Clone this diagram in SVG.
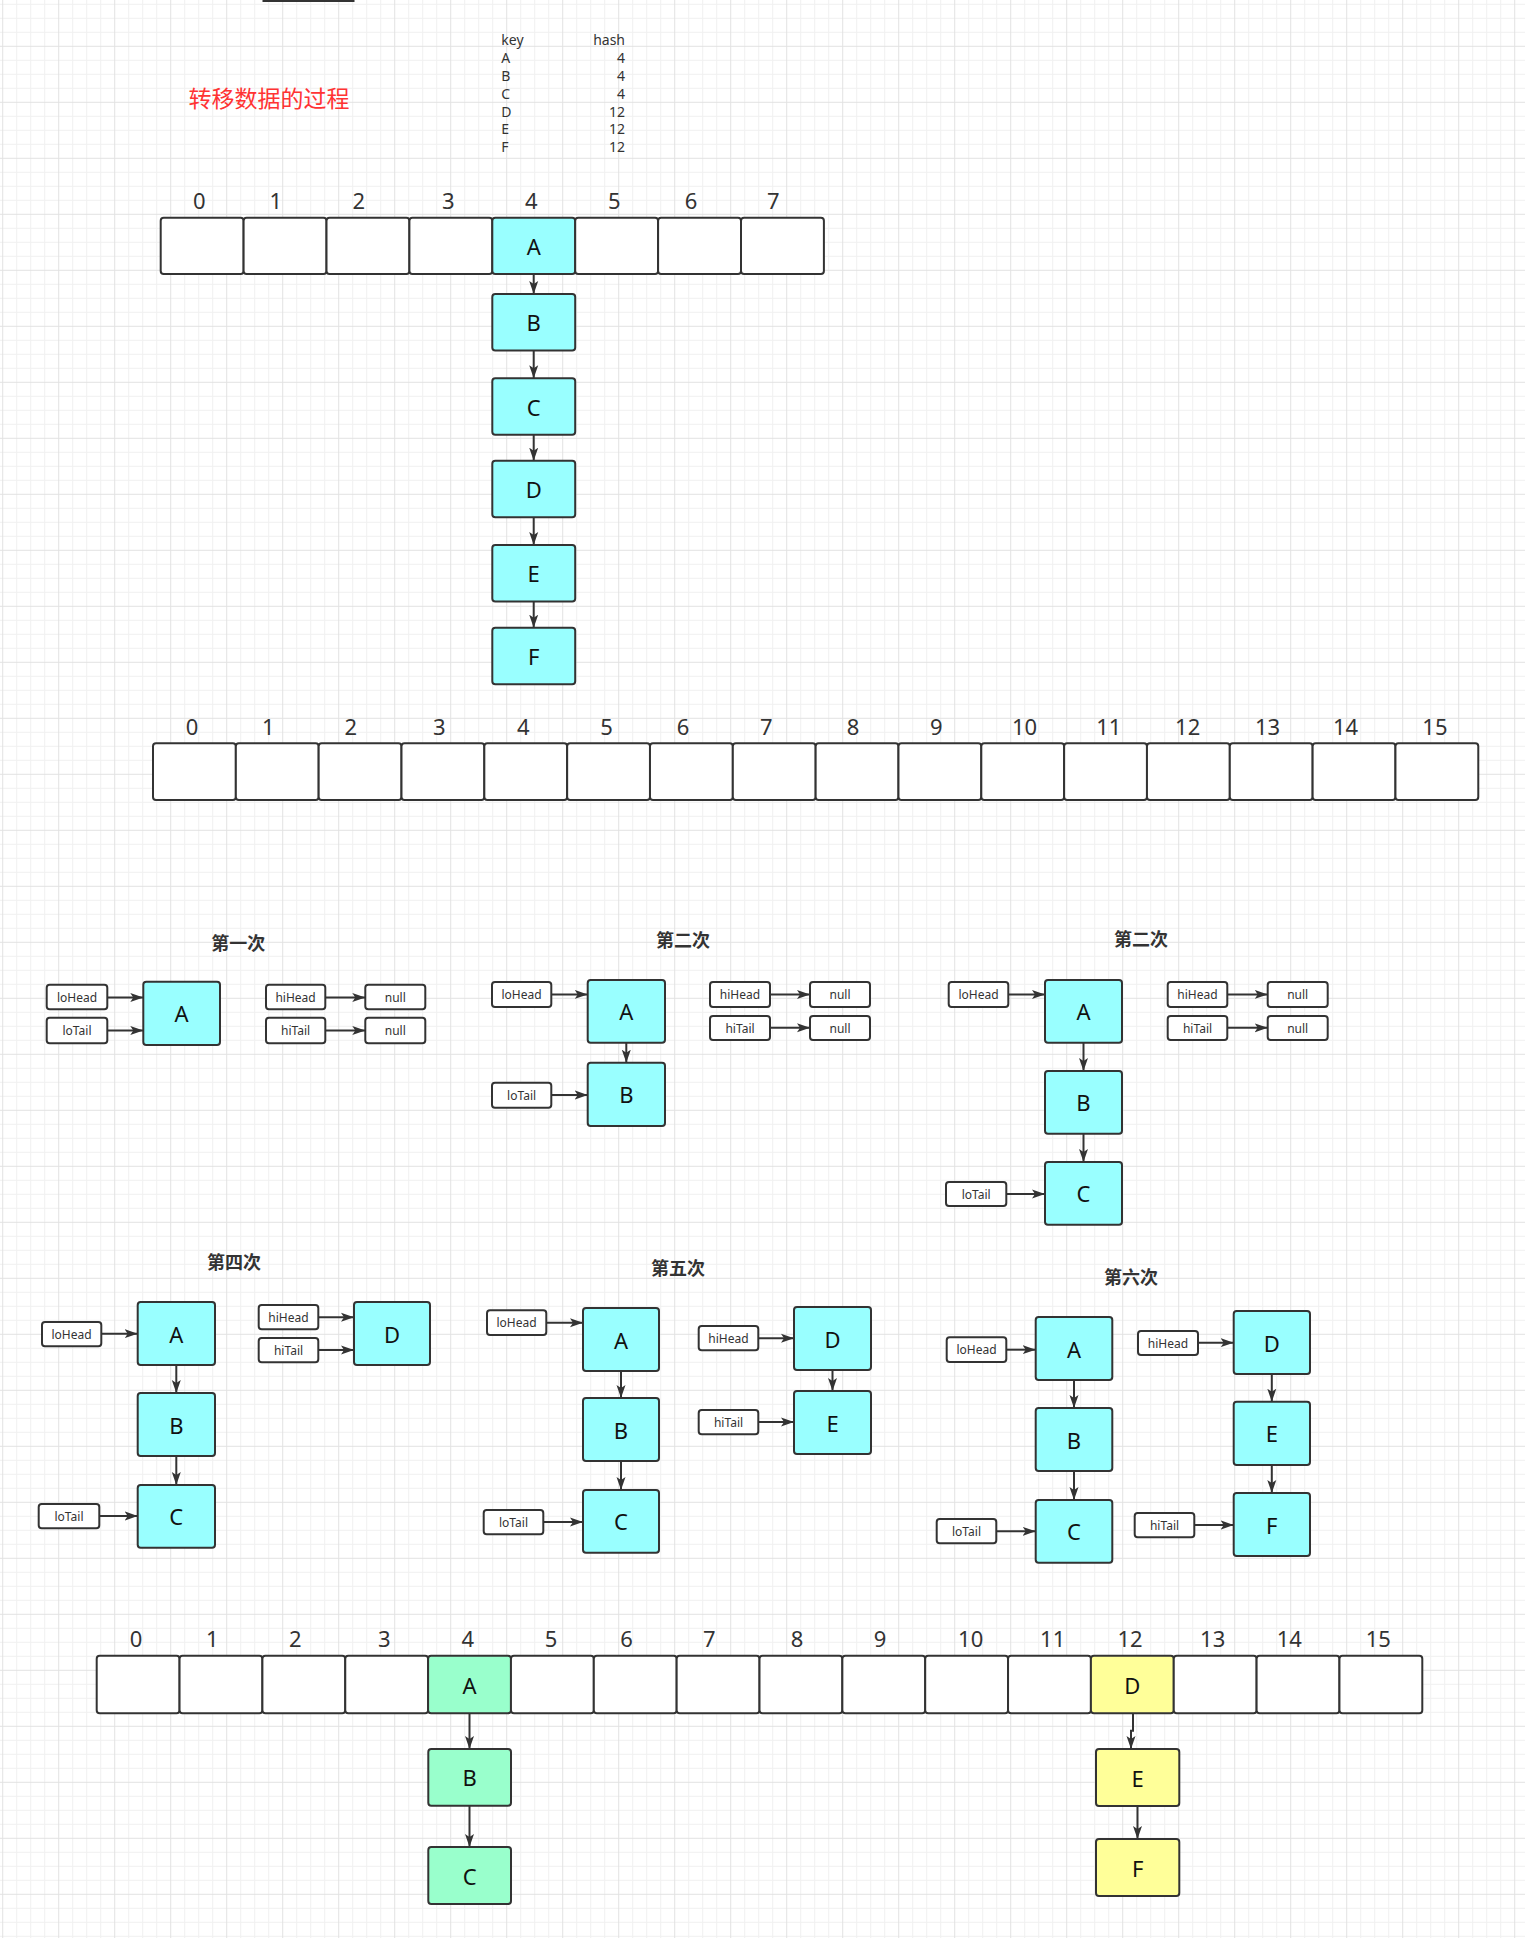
<svg xmlns="http://www.w3.org/2000/svg" width="1525" height="1938" viewBox="0 0 1525 1938">
<style>
.cell{fill:#fff;stroke:#333;stroke-width:2}
.cy{fill:#99ffff;stroke:#333;stroke-width:2}
.gr{fill:#99ffcc;stroke:#333;stroke-width:2}
.ye{fill:#ffff99;stroke:#333;stroke-width:2}
.sm{fill:#fff;stroke:#333;stroke-width:2}
.idx{font-family:"Noto Sans","Liberation Sans",sans-serif;font-size:22px;fill:#333;text-anchor:middle;dominant-baseline:central}
.big{font-family:"Noto Sans","Liberation Sans",sans-serif;font-size:22px;fill:#111;text-anchor:middle;dominant-baseline:central}
.lab{font-family:"Noto Sans","Liberation Sans",sans-serif;font-size:12px;fill:#333;text-anchor:middle;dominant-baseline:central}
.tt{font-family:"Noto Sans CJK SC",sans-serif;font-size:18px;font-weight:bold;fill:#333;text-anchor:middle;dominant-baseline:central}
.kv{font-family:"Noto Sans","Liberation Sans",sans-serif;font-size:14px;fill:#333}
.ln{fill:none;stroke:#333;stroke-width:2;marker-end:url(#arr)}
</style>
<defs>
<pattern id="grid" x="2.2" y="45.8" width="56" height="56" patternUnits="userSpaceOnUse">
<path d="M14.5 0V56M28.5 0V56M42.5 0V56M0 14.5H56M0 28.5H56M0 42.5H56" stroke="#f0f0f0" stroke-width="1"/>
<path d="M0.5 0V56M0 0.5H56" stroke="#e2e2e2" stroke-width="1"/>
</pattern>
<marker id="arr" markerUnits="userSpaceOnUse" markerWidth="14" markerHeight="10" refX="13" refY="5" orient="auto">
<path d="M0,0.5 L13,5 L0,9.5 L3,5 Z" fill="#333"/>
</marker>
</defs>
<rect width="1525" height="1938" fill="#fff"/>
<rect width="1525" height="1938" fill="url(#grid)"/>
<rect x="262.5" y="0" width="92" height="2" fill="#333"/>

<g id="title">
<text x="188.5" y="97.3" font-family="'Noto Sans CJK SC',sans-serif" font-size="23" fill="#ff3333" dominant-baseline="central">转移数据的过程</text>
</g>

<g id="key-table" class="kv">
<text x="501.3" y="39.3" class="kv" dominant-baseline="central">key</text>
<text x="625" y="39.3" class="kv" text-anchor="end" dominant-baseline="central">hash</text>
<text x="501.3" y="57.3" class="kv" dominant-baseline="central">A</text>
<text x="501.3" y="75.2" class="kv" dominant-baseline="central">B</text>
<text x="501.3" y="93.1" class="kv" dominant-baseline="central">C</text>
<text x="501.3" y="111" class="kv" dominant-baseline="central">D</text>
<text x="501.3" y="128.9" class="kv" dominant-baseline="central">E</text>
<text x="501.3" y="146.8" class="kv" dominant-baseline="central">F</text>
<text x="625" y="57.3" class="kv" text-anchor="end" dominant-baseline="central">4</text>
<text x="625" y="75.2" class="kv" text-anchor="end" dominant-baseline="central">4</text>
<text x="625" y="93.1" class="kv" text-anchor="end" dominant-baseline="central">4</text>
<text x="625" y="111" class="kv" text-anchor="end" dominant-baseline="central">12</text>
<text x="625" y="128.9" class="kv" text-anchor="end" dominant-baseline="central">12</text>
<text x="625" y="146.8" class="kv" text-anchor="end" dominant-baseline="central">12</text>
</g>

<g id="array8">
<rect class="cell" x="160.7" y="217.7" width="82.9" height="56.3" rx="3"/>
<rect class="cell" x="243.6" y="217.7" width="82.9" height="56.3" rx="3"/>
<rect class="cell" x="326.5" y="217.7" width="82.9" height="56.3" rx="3"/>
<rect class="cell" x="409.4" y="217.7" width="82.9" height="56.3" rx="3"/>
<rect class="cy" x="492.3" y="217.7" width="82.9" height="56.3" rx="3"/>
<rect class="cell" x="575.2" y="217.7" width="82.9" height="56.3" rx="3"/>
<rect class="cell" x="658.1" y="217.7" width="82.9" height="56.3" rx="3"/>
<rect class="cell" x="741" y="217.7" width="82.9" height="56.3" rx="3"/>
<text class="big" x="533.7" y="246">A</text>
<text class="idx" x="199.3" y="200">0</text>
<text class="idx" x="275.8" y="200">1</text>
<text class="idx" x="358.9" y="200">2</text>
<text class="idx" x="448.3" y="200">3</text>
<text class="idx" x="531.3" y="200">4</text>
<text class="idx" x="614.4" y="200">5</text>
<text class="idx" x="691" y="200">6</text>
<text class="idx" x="773.4" y="200">7</text>
</g>

<g id="top-B"><rect class="cy" x="492.3" y="294" width="82.9" height="56.5" rx="3"/><text class="big" x="533.7" y="322.2">B</text></g>
<g id="top-C"><rect class="cy" x="492.3" y="378.3" width="82.9" height="56.5" rx="3"/><text class="big" x="533.7" y="406.5">C</text></g>
<g id="top-D"><rect class="cy" x="492.3" y="460.7" width="82.9" height="56.5" rx="3"/><text class="big" x="533.7" y="488.9">D</text></g>
<g id="top-E"><rect class="cy" x="492.3" y="545" width="82.9" height="56.5" rx="3"/><text class="big" x="533.7" y="573.2">E</text></g>
<g id="top-F"><rect class="cy" x="492.3" y="627.7" width="82.9" height="56.5" rx="3"/><text class="big" x="533.7" y="655.9">F</text></g>

<g id="array16">
<rect class="cell" x="153" y="743.3" width="82.83" height="56.7" rx="3"/>
<rect class="cell" x="235.83" y="743.3" width="82.83" height="56.7" rx="3"/>
<rect class="cell" x="318.66" y="743.3" width="82.83" height="56.7" rx="3"/>
<rect class="cell" x="401.49" y="743.3" width="82.83" height="56.7" rx="3"/>
<rect class="cell" x="484.32" y="743.3" width="82.83" height="56.7" rx="3"/>
<rect class="cell" x="567.15" y="743.3" width="82.83" height="56.7" rx="3"/>
<rect class="cell" x="649.98" y="743.3" width="82.83" height="56.7" rx="3"/>
<rect class="cell" x="732.81" y="743.3" width="82.83" height="56.7" rx="3"/>
<rect class="cell" x="815.64" y="743.3" width="82.83" height="56.7" rx="3"/>
<rect class="cell" x="898.47" y="743.3" width="82.83" height="56.7" rx="3"/>
<rect class="cell" x="981.3" y="743.3" width="82.83" height="56.7" rx="3"/>
<rect class="cell" x="1064.13" y="743.3" width="82.83" height="56.7" rx="3"/>
<rect class="cell" x="1146.96" y="743.3" width="82.83" height="56.7" rx="3"/>
<rect class="cell" x="1229.79" y="743.3" width="82.83" height="56.7" rx="3"/>
<rect class="cell" x="1312.62" y="743.3" width="82.83" height="56.7" rx="3"/>
<rect class="cell" x="1395.45" y="743.3" width="82.83" height="56.7" rx="3"/>
<text class="idx" x="192" y="726">0</text>
<text class="idx" x="268.4" y="726">1</text>
<text class="idx" x="350.8" y="726">2</text>
<text class="idx" x="439.2" y="726">3</text>
<text class="idx" x="523.3" y="726">4</text>
<text class="idx" x="606.6" y="726">5</text>
<text class="idx" x="683" y="726">6</text>
<text class="idx" x="766.2" y="726">7</text>
<text class="idx" x="853" y="726">8</text>
<text class="idx" x="936.2" y="726">9</text>
<text class="idx" x="1024.6" y="726">10</text>
<text class="idx" x="1108.8" y="726">11</text>
<text class="idx" x="1187.7" y="726">12</text>
<text class="idx" x="1267.5" y="726">13</text>
<text class="idx" x="1345.5" y="726">14</text>
<text class="idx" x="1434.9" y="726">15</text>
</g>

<g id="stage1">
<text class="tt" x="238.3" y="941.7">第一次</text>
<g id="s1-loHead"><rect class="sm" x="46.7" y="984.7" width="60.6" height="24.6" rx="3"/><text class="lab" x="77" y="997">loHead</text></g>
<g id="s1-loTail"><rect class="sm" x="46.7" y="1017.7" width="60.6" height="25.6" rx="3"/><text class="lab" x="77" y="1030.5">loTail</text></g>
<g id="s1-A"><rect class="cy" x="143.3" y="981.7" width="76.7" height="63.3" rx="3"/><text class="big" x="181.6" y="1013.3">A</text></g>
<g id="s1-hiHead"><rect class="sm" x="266" y="984.7" width="59.3" height="24.6" rx="3"/><text class="lab" x="295.6" y="997">hiHead</text></g>
<g id="s1-hiTail"><rect class="sm" x="266" y="1017.7" width="59.3" height="25.6" rx="3"/><text class="lab" x="295.6" y="1030.5">hiTail</text></g>
<g id="s1-null1"><rect class="sm" x="365.3" y="984.7" width="60" height="24.6" rx="3"/><text class="lab" x="395.3" y="997">null</text></g>
<g id="s1-null2"><rect class="sm" x="365.3" y="1017.7" width="60" height="25.6" rx="3"/><text class="lab" x="395.3" y="1030.5">null</text></g>
</g>

<g id="stage2">
<text class="tt" x="683" y="939.3">第二次</text>
<g id="s2-loHead"><rect class="sm" x="492" y="982" width="59.3" height="25" rx="3"/><text class="lab" x="521.6" y="994.5">loHead</text></g>
<g id="s2-loTail"><rect class="sm" x="492" y="1082.7" width="59.3" height="25" rx="3"/><text class="lab" x="521.6" y="1095.2">loTail</text></g>
<g id="s2-A"><rect class="cy" x="587.7" y="980" width="77.3" height="62.7" rx="3"/><text class="big" x="626.3" y="1011.3">A</text></g>
<g id="s2-B"><rect class="cy" x="587.7" y="1062.7" width="77.3" height="63.3" rx="3"/><text class="big" x="626.3" y="1094.3">B</text></g>
<g id="s2-hiHead"><rect class="sm" x="710" y="982" width="60" height="25" rx="3"/><text class="lab" x="740" y="994.5">hiHead</text></g>
<g id="s2-hiTail"><rect class="sm" x="710" y="1016" width="60" height="24" rx="3"/><text class="lab" x="740" y="1028">hiTail</text></g>
<g id="s2-null1"><rect class="sm" x="810" y="982" width="60" height="25" rx="3"/><text class="lab" x="840" y="994.5">null</text></g>
<g id="s2-null2"><rect class="sm" x="810" y="1016" width="60" height="24" rx="3"/><text class="lab" x="840" y="1028">null</text></g>
</g>

<g id="stage3">
<text class="tt" x="1141" y="938.3">第二次</text>
<g id="s3-loHead"><rect class="sm" x="948.7" y="982" width="59.6" height="25" rx="3"/><text class="lab" x="978.5" y="994.5">loHead</text></g>
<g id="s3-loTail"><rect class="sm" x="946" y="1182" width="60.3" height="24" rx="3"/><text class="lab" x="976.2" y="1194">loTail</text></g>
<g id="s3-A"><rect class="cy" x="1045" y="980" width="77" height="62.7" rx="3"/><text class="big" x="1083.5" y="1011.3">A</text></g>
<g id="s3-B"><rect class="cy" x="1045" y="1071" width="77" height="62.7" rx="3"/><text class="big" x="1083.5" y="1102.3">B</text></g>
<g id="s3-C"><rect class="cy" x="1045" y="1162" width="77" height="62.7" rx="3"/><text class="big" x="1083.5" y="1193.3">C</text></g>
<g id="s3-hiHead"><rect class="sm" x="1167.7" y="982" width="59.6" height="25" rx="3"/><text class="lab" x="1197.5" y="994.5">hiHead</text></g>
<g id="s3-hiTail"><rect class="sm" x="1167.7" y="1016" width="59.6" height="24" rx="3"/><text class="lab" x="1197.5" y="1028">hiTail</text></g>
<g id="s3-null1"><rect class="sm" x="1267.7" y="982" width="60" height="25" rx="3"/><text class="lab" x="1297.7" y="994.5">null</text></g>
<g id="s3-null2"><rect class="sm" x="1267.7" y="1016" width="60" height="24" rx="3"/><text class="lab" x="1297.7" y="1028">null</text></g>
</g>

<g id="stage4">
<text class="tt" x="234" y="1260.7">第四次</text>
<g id="s4-loHead"><rect class="sm" x="42" y="1322" width="59.3" height="24.3" rx="3"/><text class="lab" x="71.6" y="1334.1">loHead</text></g>
<g id="s4-loTail"><rect class="sm" x="38.7" y="1504" width="60.6" height="24.3" rx="3"/><text class="lab" x="69" y="1516.1">loTail</text></g>
<g id="s4-A"><rect class="cy" x="137.7" y="1302" width="77.3" height="63" rx="3"/><text class="big" x="176.3" y="1333.5">A</text></g>
<g id="s4-B"><rect class="cy" x="137.7" y="1393" width="77.3" height="63" rx="3"/><text class="big" x="176.3" y="1424.5">B</text></g>
<g id="s4-C"><rect class="cy" x="137.7" y="1485" width="77.3" height="62.7" rx="3"/><text class="big" x="176.3" y="1516.3">C</text></g>
<g id="s4-hiHead"><rect class="sm" x="258.7" y="1305" width="59.6" height="24.3" rx="3"/><text class="lab" x="288.5" y="1317.1">hiHead</text></g>
<g id="s4-hiTail"><rect class="sm" x="258.7" y="1338" width="59.6" height="24.3" rx="3"/><text class="lab" x="288.5" y="1350.1">hiTail</text></g>
<g id="s4-D"><rect class="cy" x="354" y="1302" width="76" height="63" rx="3"/><text class="big" x="392" y="1333.5">D</text></g>
</g>

<g id="stage5">
<text class="tt" x="678" y="1267">第五次</text>
<g id="s5-loHead"><rect class="sm" x="487" y="1310.3" width="59.3" height="24.7" rx="3"/><text class="lab" x="516.6" y="1322.6">loHead</text></g>
<g id="s5-loTail"><rect class="sm" x="483.7" y="1510" width="59.6" height="24.3" rx="3"/><text class="lab" x="513.5" y="1522.1">loTail</text></g>
<g id="s5-A"><rect class="cy" x="583" y="1308" width="76" height="63" rx="3"/><text class="big" x="621" y="1339.5">A</text></g>
<g id="s5-B"><rect class="cy" x="583" y="1398" width="76" height="63" rx="3"/><text class="big" x="621" y="1429.5">B</text></g>
<g id="s5-C"><rect class="cy" x="583" y="1490" width="76" height="62.7" rx="3"/><text class="big" x="621" y="1521.3">C</text></g>
<g id="s5-hiHead"><rect class="sm" x="698.7" y="1326" width="59.6" height="24.3" rx="3"/><text class="lab" x="728.5" y="1338.1">hiHead</text></g>
<g id="s5-hiTail"><rect class="sm" x="698.7" y="1410" width="59.6" height="24.3" rx="3"/><text class="lab" x="728.5" y="1422.1">hiTail</text></g>
<g id="s5-D"><rect class="cy" x="794" y="1307" width="77" height="63" rx="3"/><text class="big" x="832.5" y="1338.5">D</text></g>
<g id="s5-E"><rect class="cy" x="794" y="1391" width="77" height="63" rx="3"/><text class="big" x="832.5" y="1422.5">E</text></g>
</g>

<g id="stage6">
<text class="tt" x="1131" y="1275.7">第六次</text>
<g id="s6-loHead"><rect class="sm" x="946.7" y="1337.3" width="59.6" height="24.7" rx="3"/><text class="lab" x="976.5" y="1349.6">loHead</text></g>
<g id="s6-loTail"><rect class="sm" x="936.7" y="1519" width="59.6" height="24.3" rx="3"/><text class="lab" x="966.5" y="1531.1">loTail</text></g>
<g id="s6-A"><rect class="cy" x="1035.7" y="1317" width="76.6" height="63" rx="3"/><text class="big" x="1074" y="1348.5">A</text></g>
<g id="s6-B"><rect class="cy" x="1035.7" y="1408" width="76.6" height="63" rx="3"/><text class="big" x="1074" y="1439.5">B</text></g>
<g id="s6-C"><rect class="cy" x="1035.7" y="1500" width="76.6" height="62.7" rx="3"/><text class="big" x="1074" y="1531.3">C</text></g>
<g id="s6-hiHead"><rect class="sm" x="1138" y="1331" width="60" height="24" rx="3"/><text class="lab" x="1168" y="1343">hiHead</text></g>
<g id="s6-hiTail"><rect class="sm" x="1134.7" y="1513" width="59.6" height="24.3" rx="3"/><text class="lab" x="1164.5" y="1525.1">hiTail</text></g>
<g id="s6-D"><rect class="cy" x="1233.7" y="1311" width="76.3" height="63" rx="3"/><text class="big" x="1271.8" y="1342.5">D</text></g>
<g id="s6-E"><rect class="cy" x="1233.7" y="1401.7" width="76.3" height="63.3" rx="3"/><text class="big" x="1271.8" y="1433.3">E</text></g>
<g id="s6-F"><rect class="cy" x="1233.7" y="1493" width="76.3" height="63" rx="3"/><text class="big" x="1271.8" y="1524.5">F</text></g>
</g>

<g id="array16-result">
<rect class="cell" x="96.7" y="1655.7" width="82.85" height="57.6" rx="3"/>
<rect class="cell" x="179.55" y="1655.7" width="82.85" height="57.6" rx="3"/>
<rect class="cell" x="262.4" y="1655.7" width="82.85" height="57.6" rx="3"/>
<rect class="cell" x="345.25" y="1655.7" width="82.85" height="57.6" rx="3"/>
<rect class="gr" x="428.1" y="1655.7" width="82.85" height="57.6" rx="3"/>
<rect class="cell" x="510.95" y="1655.7" width="82.85" height="57.6" rx="3"/>
<rect class="cell" x="593.8" y="1655.7" width="82.85" height="57.6" rx="3"/>
<rect class="cell" x="676.65" y="1655.7" width="82.85" height="57.6" rx="3"/>
<rect class="cell" x="759.5" y="1655.7" width="82.85" height="57.6" rx="3"/>
<rect class="cell" x="842.35" y="1655.7" width="82.85" height="57.6" rx="3"/>
<rect class="cell" x="925.2" y="1655.7" width="82.85" height="57.6" rx="3"/>
<rect class="cell" x="1008.05" y="1655.7" width="82.85" height="57.6" rx="3"/>
<rect class="ye" x="1090.9" y="1655.7" width="82.85" height="57.6" rx="3"/>
<rect class="cell" x="1173.75" y="1655.7" width="82.85" height="57.6" rx="3"/>
<rect class="cell" x="1256.6" y="1655.7" width="82.85" height="57.6" rx="3"/>
<rect class="cell" x="1339.45" y="1655.7" width="82.85" height="57.6" rx="3"/>
<text class="big" x="469.5" y="1684.5">A</text>
<text class="big" x="1132.3" y="1684.5">D</text>
<text class="idx" x="136" y="1638.3">0</text>
<text class="idx" x="212.3" y="1638.3">1</text>
<text class="idx" x="295.3" y="1638.3">2</text>
<text class="idx" x="384.3" y="1638.3">3</text>
<text class="idx" x="467.7" y="1638.3">4</text>
<text class="idx" x="551" y="1638.3">5</text>
<text class="idx" x="626.6" y="1638.3">6</text>
<text class="idx" x="709.3" y="1638.3">7</text>
<text class="idx" x="797" y="1638.3">8</text>
<text class="idx" x="880" y="1638.3">9</text>
<text class="idx" x="970.7" y="1638.3">10</text>
<text class="idx" x="1052.7" y="1638.3">11</text>
<text class="idx" x="1130" y="1638.3">12</text>
<text class="idx" x="1212.7" y="1638.3">13</text>
<text class="idx" x="1289.3" y="1638.3">14</text>
<text class="idx" x="1378.3" y="1638.3">15</text>
</g>
<g id="res-B"><rect class="gr" x="428.3" y="1749" width="82.7" height="56.7" rx="3"/><text class="big" x="469.6" y="1777.3">B</text></g>
<g id="res-C"><rect class="gr" x="428.3" y="1847" width="82.7" height="57" rx="3"/><text class="big" x="469.6" y="1875.5">C</text></g>
<g id="res-E"><rect class="ye" x="1096" y="1749" width="83.3" height="57" rx="3"/><text class="big" x="1137.6" y="1777.5">E</text></g>
<g id="res-F"><rect class="ye" x="1096" y="1839" width="83.3" height="57" rx="3"/><text class="big" x="1137.6" y="1867.5">F</text></g>

<g id="connectors">
<path class="ln" d="M533.7 274V294"/>
<path class="ln" d="M533.7 350.5V378.3"/>
<path class="ln" d="M533.7 434.8V460.7"/>
<path class="ln" d="M533.7 517.2V545"/>
<path class="ln" d="M533.7 601.5V627.7"/>

<path class="ln" d="M107.3 997.5H143.3"/>
<path class="ln" d="M107.3 1030.5H143.3"/>
<path class="ln" d="M325.3 997.5H365.3"/>
<path class="ln" d="M325.3 1030.5H365.3"/>

<path class="ln" d="M551.3 994.4H587.7"/>
<path class="ln" d="M551.3 1095H587.7"/>
<path class="ln" d="M626.3 1042.7V1062.7"/>
<path class="ln" d="M770 994.4H810"/>
<path class="ln" d="M770 1027.8H810"/>

<path class="ln" d="M1008.3 994.4H1045"/>
<path class="ln" d="M1006.3 1194H1045"/>
<path class="ln" d="M1083.5 1042.7V1071"/>
<path class="ln" d="M1083.5 1133.7V1162"/>
<path class="ln" d="M1227.3 994.4H1267.7"/>
<path class="ln" d="M1227.3 1027.8H1267.7"/>

<path class="ln" d="M101.3 1333.7H137.7"/>
<path class="ln" d="M99.3 1516H137.7"/>
<path class="ln" d="M176.3 1365V1393"/>
<path class="ln" d="M176.3 1456V1485"/>
<path class="ln" d="M318.3 1317.3H354"/>
<path class="ln" d="M318.3 1350H354"/>

<path class="ln" d="M546.3 1322.7H583"/>
<path class="ln" d="M543.3 1522H583"/>
<path class="ln" d="M621 1371V1398"/>
<path class="ln" d="M621 1461V1490"/>
<path class="ln" d="M758.3 1338.3H794"/>
<path class="ln" d="M758.3 1422H794"/>
<path class="ln" d="M832.5 1370V1391"/>

<path class="ln" d="M1006.3 1349.7H1035.7"/>
<path class="ln" d="M996.3 1531.3H1035.7"/>
<path class="ln" d="M1074 1380V1408"/>
<path class="ln" d="M1074 1471V1500"/>
<path class="ln" d="M1198 1342.7H1233.7"/>
<path class="ln" d="M1194.3 1525H1233.7"/>
<path class="ln" d="M1271.8 1374V1401.7"/>
<path class="ln" d="M1271.8 1465V1493"/>

<path class="ln" d="M469.5 1713.3V1749"/>
<path class="ln" d="M469.5 1805.7V1847"/>
<path class="ln" d="M1133 1713.3V1730.7H1131V1749"/>
<path class="ln" d="M1137.5 1806V1839"/>
</g>
</svg>
